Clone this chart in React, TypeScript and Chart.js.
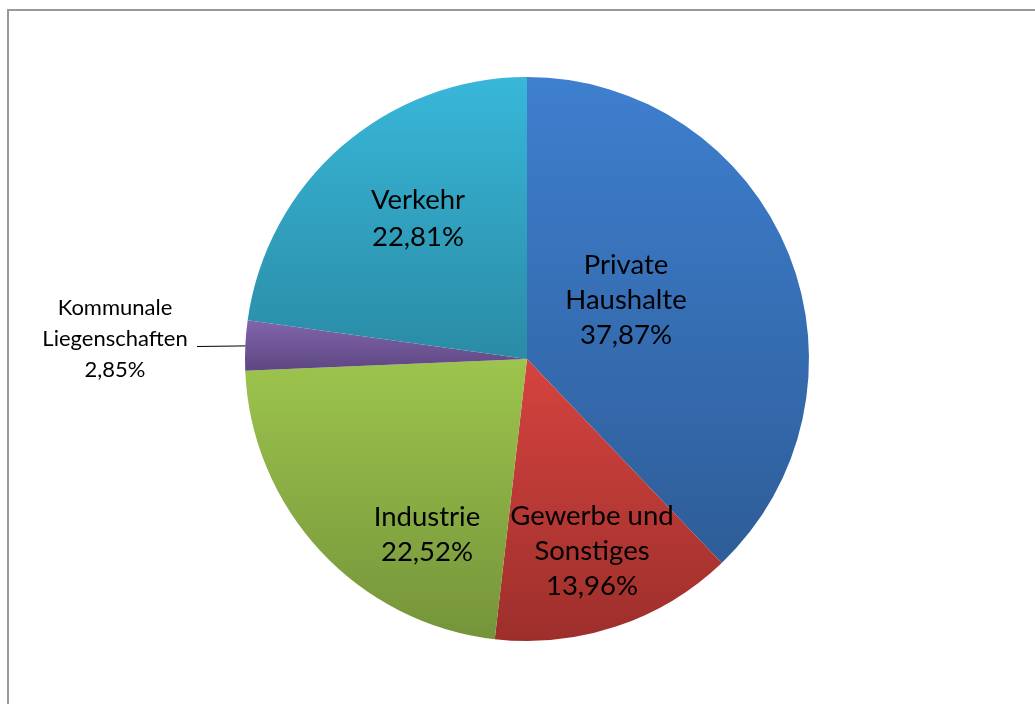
import React, { useEffect, useRef } from "react";
import { Chart, registerables } from "chart.js";

Chart.register(...registerables);

const categories = [
  "Private Haushalte",
  "Gewerbe und Sonstiges",
  "Industrie",
  "Kommunale Liegenschaften",
  "Verkehr",
];
const shares = [37.87, 13.96, 22.52, 2.85, 22.81];
const valueLabels = ["37,87%", "13,96%", "22,52%", "2,85%", "22,81%"];
const labelLines = [
  ["Private", "Haushalte"],
  ["Gewerbe und", "Sonstiges"],
  ["Industrie"],
  ["Kommunale", "Liegenschaften"],
  ["Verkehr"],
];
const topColors = ["#3e7fcf", "#d5433f", "#9dc44d", "#8264ab", "#38b7d9"];
const bottomColors = ["#2e5d98", "#9d2f2b", "#75943a", "#5d4782", "#2a8ba5"];

function geometry(chart: any) {
  const a = chart.chartArea;
  const cx = (a.left + a.right) / 2;
  const cy = (a.top + a.bottom) / 2;
  const r = Math.min(a.right - a.left, a.bottom - a.top) / 2;
  return { cx, cy, r };
}

function sliceAngles(i: number) {
  const total = shares.reduce((s, v) => s + v, 0);
  let before = 0;
  for (let k = 0; k < i; k++) before += shares[k];
  const start = -Math.PI / 2 + (before / total) * Math.PI * 2;
  const end = start + (shares[i] / total) * Math.PI * 2;
  return { start, end };
}

function sliceFill(ctx: any) {
  const i = ctx.dataIndex;
  const chart = ctx.chart;
  if (!chart.chartArea || i === undefined) return topColors[i ?? 0];
  const { cx, cy, r } = geometry(chart);
  const { start, end } = sliceAngles(i);
  const ys = [cy, cy + r * Math.sin(start), cy + r * Math.sin(end)];
  [-Math.PI / 2, Math.PI / 2, (3 * Math.PI) / 2].forEach((a) => {
    if (a >= start && a <= end) ys.push(cy + r * Math.sin(a));
  });
  const y0 = Math.min(...ys);
  const y1 = Math.max(...ys);
  const g = chart.ctx.createLinearGradient(0, y0, 0, y1);
  g.addColorStop(0, topColors[i]);
  g.addColorStop(1, bottomColors[i]);
  return g;
}

const framePlugin = {
  id: "frame",
  beforeDraw(chart: any) {
    const c = chart.ctx;
    c.save();
    c.fillStyle = "#ffffff";
    c.fillRect(0, 0, chart.width, chart.height);
    c.strokeStyle = "#999999";
    c.lineWidth = 2;
    c.strokeRect(8, 10, chart.width + 50, chart.height + 50);
    c.restore();
  },
};

// label offsets relative to pie centre (text layout only)
const labelPlacement: Record<number, { dx: number; dy: number; size: number; gap: number }> = {
  0: { dx: 99, dy: -94, size: 27.5, gap: 35 },
  1: { dx: 65, dy: 157, size: 27.5, gap: 35 },
  2: { dx: -100, dy: 158, size: 27.5, gap: 35 },
  3: { dx: -412, dy: -51, size: 22, gap: 31 },
  4: { dx: -109, dy: -159, size: 27.5, gap: 37 },
};

const labelPlugin = {
  id: "sliceLabels",
  afterDatasetsDraw(chart: any) {
    const c = chart.ctx;
    const { cx, cy } = geometry(chart);
    const meta = chart.getDatasetMeta(0);
    c.save();
    c.fillStyle = "#000000";
    c.textAlign = "center";
    c.textBaseline = "middle";
    meta.data.forEach((arc: any, i: number) => {
      const p = labelPlacement[i];
      const lines = [...labelLines[i], valueLabels[i]];
      c.font = `${p.size}px Lato, "Noto Sans", sans-serif`;
      lines.forEach((t, k) => {
        c.fillText(t, cx + p.dx, cy + p.dy + k * p.gap);
      });
      if (i === 3) {
        const mid = (arc.startAngle + arc.endAngle) / 2;
        const ex = arc.x + arc.outerRadius * Math.cos(mid);
        const ey = arc.y + arc.outerRadius * Math.sin(mid);
        c.strokeStyle = "#000000";
        c.lineWidth = 1;
        c.beginPath();
        c.moveTo(cx + p.dx + 82, cy + p.dy + p.gap + 7.5);
        c.lineTo(ex, ey + 0.5);
        c.stroke();
      }
    });
    c.restore();
  },
};

export default function App() {
  const ref = useRef<HTMLCanvasElement | null>(null);
  useEffect(() => {
    document.body.style.margin = "0";
    if (!ref.current) return;
    const chart = new Chart(ref.current, {
      type: "pie",
      data: {
        labels: categories,
        datasets: [
          {
            data: shares,
            backgroundColor: sliceFill as any,
            borderWidth: 0,
          },
        ],
      },
      options: {
        animation: false,
        responsive: true,
        maintainAspectRatio: false,
        layout: { padding: { left: 245, right: 226, top: 77, bottom: 63 } },
        plugins: {
          legend: { display: false },
          tooltip: { enabled: false },
        },
      },
      plugins: [framePlugin, labelPlugin],
    });
    return () => chart.destroy();
  }, []);
  return (
    <div style={{ width: 1035, height: 704, position: "relative" }}>
      <canvas ref={ref} />
    </div>
  );
}
